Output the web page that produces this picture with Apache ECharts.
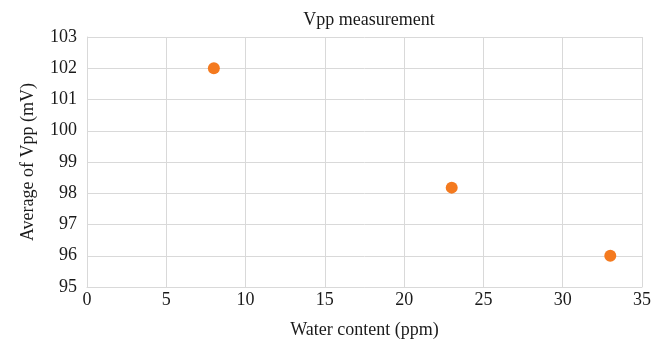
<!DOCTYPE html>
<html>
<head>
<meta charset="utf-8">
<script src="https://cdn.jsdelivr.net/npm/echarts@6/dist/echarts.min.js"></script>
<style>
  html, body { margin: 0; padding: 0; background: #fff; }
  #chart { width: 665px; height: 340px; }
</style>
</head>
<body>
<div id="chart"></div>
<script>
// water content (ppm) and average Vpp (mV)
const waterContent = [8, 23, 33];
const avgVpp = [102.0, 98.18, 96.0];
const xTicks = { min: 0, max: 35, interval: 5 };
const yTicks = { min: 95, max: 103, interval: 1 };

const font = '"Liberation Serif", "Times New Roman", serif';
const ink = '#1a1a1a';
const chart = echarts.init(document.getElementById('chart'));

chart.setOption({
  animation: false,
  textStyle: { fontFamily: font },
  title: {
    text: 'Vpp measurement',
    left: 364,
    textAlign: 'center',
    top: 6,
    textStyle: { fontFamily: font, fontSize: 18, fontWeight: 'normal', color: ink }
  },
  grid: { left: 87, right: 23, top: 37, bottom: 53, outerBoundsMode: 'none' },
  xAxis: {
    type: 'value',
    min: xTicks.min, max: xTicks.max, interval: xTicks.interval,
    name: 'Water content (ppm)',
    nameLocation: 'middle',
    nameGap: 34,
    nameTextStyle: { fontFamily: font, fontSize: 18, color: ink },
    axisLine: { show: true, lineStyle: { color: '#d9d9d9', width: 1 } },
    axisTick: { show: false },
    axisLabel: { fontFamily: font, fontSize: 18, color: ink, margin: 4 },
    splitLine: { show: true, lineStyle: { color: '#d9d9d9', width: 1 } }
  },
  yAxis: {
    type: 'value',
    min: yTicks.min, max: yTicks.max, interval: yTicks.interval,
    name: 'Average of Vpp (mV)',
    nameLocation: 'middle',
    nameGap: 50,
    nameTextStyle: { fontFamily: font, fontSize: 18, color: ink },
    axisLine: { show: true, lineStyle: { color: '#d9d9d9', width: 1 } },
    axisTick: { show: false },
    axisLabel: { fontFamily: font, fontSize: 18, color: ink, margin: 10 },
    splitLine: { show: true, lineStyle: { color: '#d9d9d9', width: 1 } }
  },
  series: [{
    type: 'scatter',
    symbol: 'circle',
    symbolSize: 12,
    itemStyle: { color: '#f47a1f', opacity: 1 },
    data: waterContent.map((x, i) => [x, avgVpp[i]])
  }]
});
</script>
</body>
</html>
